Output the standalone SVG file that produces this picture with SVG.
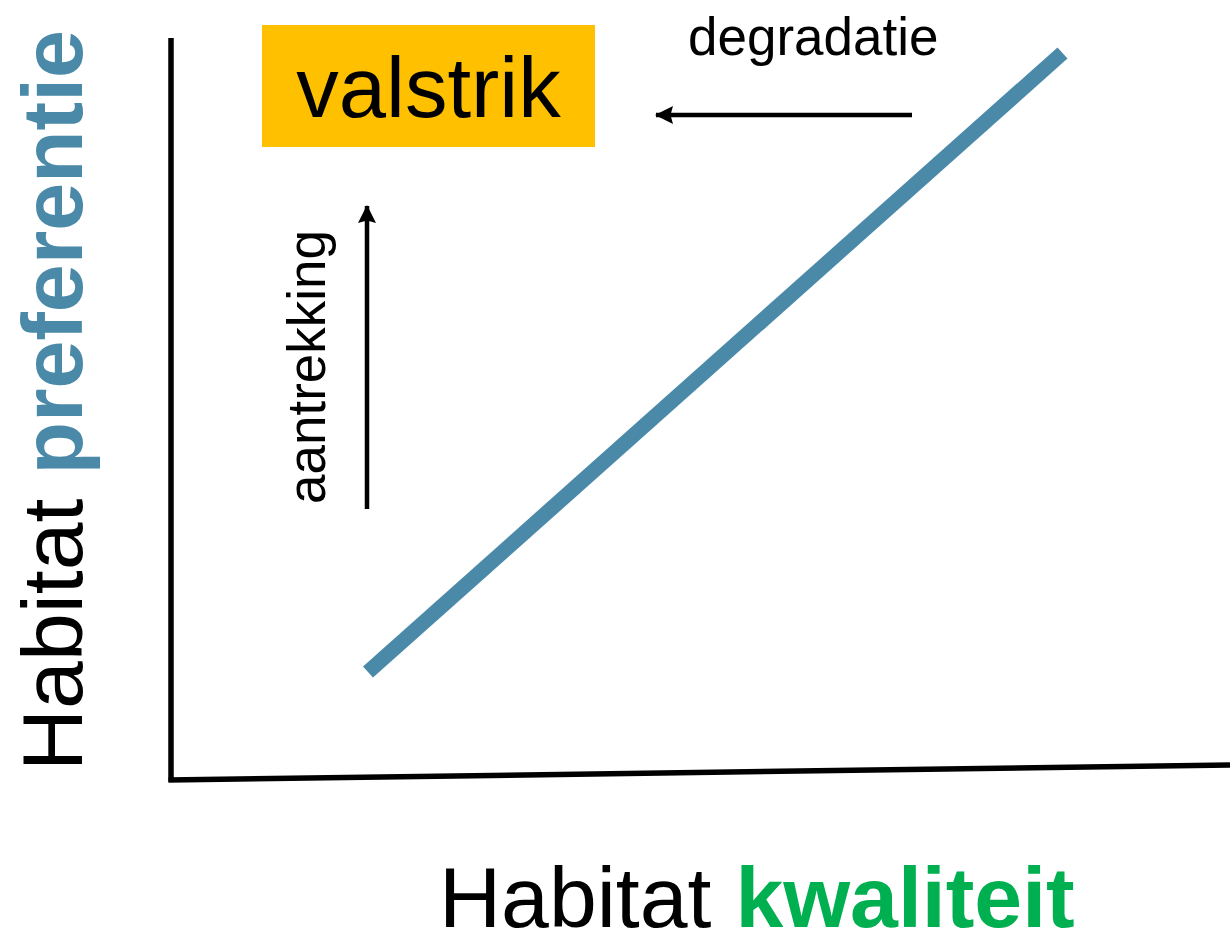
<svg xmlns="http://www.w3.org/2000/svg" width="1230" height="935" viewBox="0 0 1230 935">
<style>
text { font-family: "Liberation Sans", Arial, sans-serif; fill: #000; }
.axis { stroke: #000; stroke-width: 5.5; fill: none; }
.arrow { stroke: #000; stroke-width: 4.5; fill: none; }
.big { font-size: 86px; }
.small { font-size: 53px; }
.bold { font-weight: bold; }
</style>
<defs>
<marker id="ah" viewBox="0 0 18 18" refX="17" refY="9" markerWidth="18" markerHeight="18" markerUnits="userSpaceOnUse" orient="auto">
<path d="M0,0 L18,9 L0,18 L2.5,9 Z" fill="#000"/>
</marker>
</defs>
<rect width="1230" height="935" fill="#fff"/>
<g id="axes">
<line class="axis" x1="171" y1="38" x2="171" y2="782"/>
<line class="axis" x1="168.5" y1="780" x2="1230" y2="765"/>
</g>
<g id="trend">
<line x1="368" y1="672" x2="1062.5" y2="53" stroke="#4A8AA8" stroke-width="15"/>
</g>
<g id="valstrik">
<rect x="262" y="25" width="333" height="122" fill="#FFC000"/>
<text x="428.5" y="117" text-anchor="middle" font-size="85">valstrik</text>
</g>
<g id="connectors">
<line class="arrow" x1="912" y1="115" x2="656" y2="115" marker-end="url(#ah)"/>
<line class="arrow" x1="367" y1="509" x2="367" y2="206" marker-end="url(#ah)"/>
</g>
<g id="label-degradatie">
<text class="small" x="688" y="55">degradatie</text>
</g>
<g id="label-aantrekking">
<text class="small" transform="translate(325,504) rotate(-90)">aantrekking</text>
</g>
<g id="y-axis-label">
<text class="big" transform="translate(82,771) rotate(-90)">Habitat <tspan class="bold" fill="#4A8AA8">preferentie</tspan></text>
</g>
<g id="x-axis-label">
<text class="big" x="439" y="927">Habitat <tspan class="bold" fill="#00B050">kwaliteit</tspan></text>
</g>
</svg>
